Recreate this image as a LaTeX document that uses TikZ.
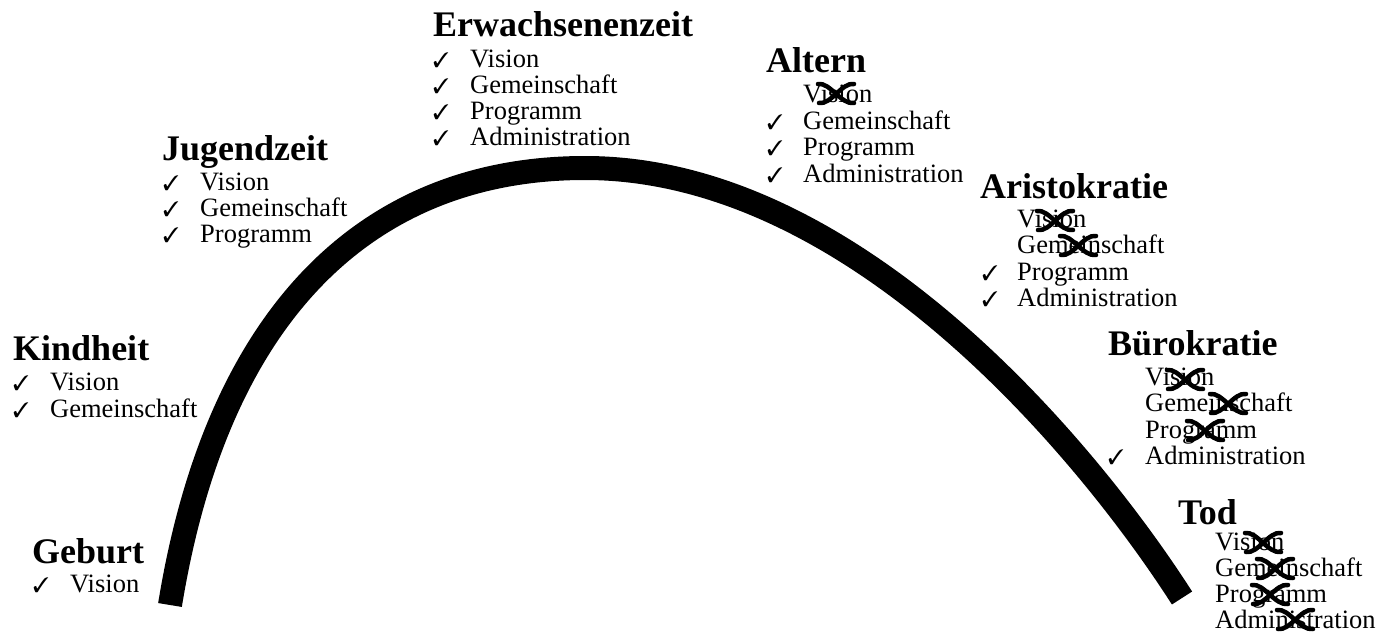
\documentclass[tikz,border=0pt]{standalone}
\usepackage{fontspec}
\setmainfont{Liberation Serif}
\usepackage{pifont}

\tikzset{
	crossline/.style={line width=4.5pt,line cap=round},
	cross/.pic={
		\draw[crossline] (-18,-9) .. controls (-6,-11) and (5,12) .. (18,10);
		\draw[crossline] (-17,10) .. controls (-5,12) and (6,-11) .. (18,-9);
	}
}

\begin{document}
\begin{tikzpicture}[x=1pt,y=-1pt]
		\useasboundingbox (0,0) rectangle (1389,634);
		\draw[line width=24pt] (170,605) .. controls (218,310) and (370,168) .. (585,168)
			.. controls (860,168) and (1095,462) .. (1182,598);
		\begin{scope}[every node/.style={anchor=base west,inner sep=0pt,font=\fontsize{36}{36}\selectfont\bfseries}]
			\node (Geb) at (32,563) {Geburt};
			\node (Kin) at (13,360) {Kindheit};
			\node (Jug) at (162,160) {Jugendzeit};
			\node (Erw) at (433,37) {Erwachsenenzeit};
			\node (Alt) at (766,73) {Altern};
			\node (Ari) at (980,198) {Aristokratie};
			\node (Bue) at (1108,355) {Bürokratie};
			\node (Tod) at (1178,524) {Tod};
		\end{scope}
		\begin{scope}[every node/.style={anchor=base west,inner sep=0pt,font=\fontsize{26.5}{26.5}\selectfont}]
			\node (Geb1) at (70,592) {Vision};
			\node (Kin1) at (50,390) {Vision};
			\node (Kin2) at (50,417) {Gemeinschaft};
			\node (Jug1) at (200,190) {Vision};
			\node (Jug2) at (200,216) {Gemeinschaft};
			\node (Jug3) at (200,242) {Programm};
			\node (Erw1) at (470,67) {Vision};
			\node (Erw2) at (470,93) {Gemeinschaft};
			\node (Erw3) at (470,119) {Programm};
			\node (Erw4) at (470,145) {Administration};
			\node (Alt1) at (803,102) {Vision};
			\node (Alt2) at (803,129) {Gemeinschaft};
			\node (Alt3) at (803,155) {Programm};
			\node (Alt4) at (803,182) {Administration};
			\node (Ari1) at (1017,227) {Vision};
			\node (Ari2) at (1017,253) {Gemeinschaft};
			\node (Ari3) at (1017,280) {Programm};
			\node (Ari4) at (1017,306) {Administration};
			\node (Bue1) at (1145,385) {Vision};
			\node (Bue2) at (1145,411) {Gemeinschaft};
			\node (Bue3) at (1145,438) {Programm};
			\node (Bue4) at (1145,464) {Administration};
			\node (Tod1) at (1215,550) {Vision};
			\node (Tod2) at (1215,576) {Gemeinschaft};
			\node (Tod3) at (1215,602) {Programm};
			\node (Tod4) at (1215,628) {Administration};
		\end{scope}
		% Haken
		\begin{scope}[every node/.style={anchor=base west,inner sep=0pt,font=\fontsize{21}{21}\selectfont}]
			\node (GebT1) at (33,592) {\ding{51}};
			\node (KinT1) at (13,390) {\ding{51}};
			\node (KinT2) at (13,417) {\ding{51}};
			\node (JugT1) at (163,190) {\ding{51}};
			\node (JugT2) at (163,216) {\ding{51}};
			\node (JugT3) at (163,242) {\ding{51}};
			\node (ErwT1) at (433,67) {\ding{51}};
			\node (ErwT2) at (433,93) {\ding{51}};
			\node (ErwT3) at (433,119) {\ding{51}};
			\node (ErwT4) at (433,145) {\ding{51}};
			\node (AltT2) at (767,129) {\ding{51}};
			\node (AltT3) at (767,155) {\ding{51}};
			\node (AltT4) at (767,182) {\ding{51}};
			\node (AriT3) at (982,280) {\ding{51}};
			\node (AriT4) at (982,306) {\ding{51}};
			\node (BueT4) at (1108,464) {\ding{51}};
		\end{scope}
		% Kreuze
		\pic at (836,93) {cross};
		\pic at (1055,220) {cross};
		\pic at (1078,245) {cross};
		\pic at (1185,379) {cross};
		\pic at (1228,403) {cross};
		\pic at (1205,430) {cross};
		\pic at (1263,542) {cross};
		\pic at (1275,568) {cross};
		\pic at (1270,594) {cross};
		\pic at (1295,619) {cross};
	\end{tikzpicture}
\end{document}
